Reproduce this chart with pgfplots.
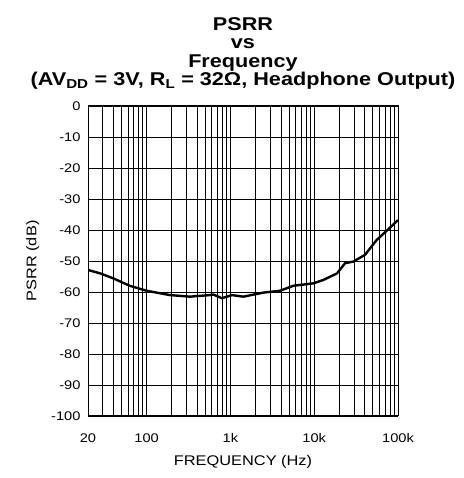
\documentclass[border=0pt]{standalone}
\usepackage{fontspec}
\setmainfont[FakeStretch=1.17]{Liberation Sans}
\usepackage{pgfplots}
\pgfplotsset{compat=1.18}
\usetikzlibrary{calc}
\begin{document}
\begin{tikzpicture}[x=1pt,y=1pt]
\begin{axis}[name=ax,
  scale only axis, width=310pt, height=310pt,
  xmode=log, xmin=20, xmax=100000, ymin=-100, ymax=0,
  xtick={20,100,1000,10000,100000},
  xticklabels={20,100,1k,10k,100k},
  minor xtick={30,40,50,60,70,80,90,200,300,400,500,600,700,800,900,2000,3000,4000,5000,6000,7000,8000,9000,20000,30000,40000,50000,60000,70000,80000,90000},
  ytick={-100,-90,...,0},
  grid=both,
  major grid style={black, line width=0.7pt},
  minor grid style={black, line width=0.7pt},
  axis line style={black, line width=1pt},
  tick style={draw=none},
  tick label style={font=\fontsize{12.5}{14}\selectfont},
  /pgf/number format/assume math mode=true,
  xticklabel style={yshift=-14pt},
  yticklabel style={xshift=-4pt},
  xlabel={FREQUENCY (Hz)},
  ylabel={PSRR (dB)},
  label style={font=\fontsize{14}{16}\selectfont},
  xlabel style={yshift=-6pt},
  ylabel style={yshift=5pt},
]
\addplot[black, line width=2.4pt, line join=round] coordinates {
(20,-52.9) (28,-54) (40,-55.6) (63,-58) (100,-59.6) (190,-61) (330,-61.5)
(570,-61) (625,-60.8) (790,-62) (1040,-61) (1430,-61.5) (2480,-60.2)
(3900,-59.6) (5640,-58) (9800,-57.2) (12900,-56.1) (18700,-54) (23400,-50.7)
(29300,-50.2) (40400,-48) (55700,-43.2) (75000,-40) (100000,-36.8)
};
\end{axis}
\node[anchor=south, align=center, font=\bfseries\fontsize{18.5}{18.5}\selectfont, inner sep=0pt]
  at ($(ax.north)+(0,16pt)$) {PSRR\\vs\\Frequency\\(AV\textsubscript{DD} = 3V, R\textsubscript{L} = 32Ω, Headphone Output)};
\path ($(ax.south west)+(-88pt,-62pt)$) rectangle ($(ax.north east)+(65pt,106pt)$);
\end{tikzpicture}
\end{document}
